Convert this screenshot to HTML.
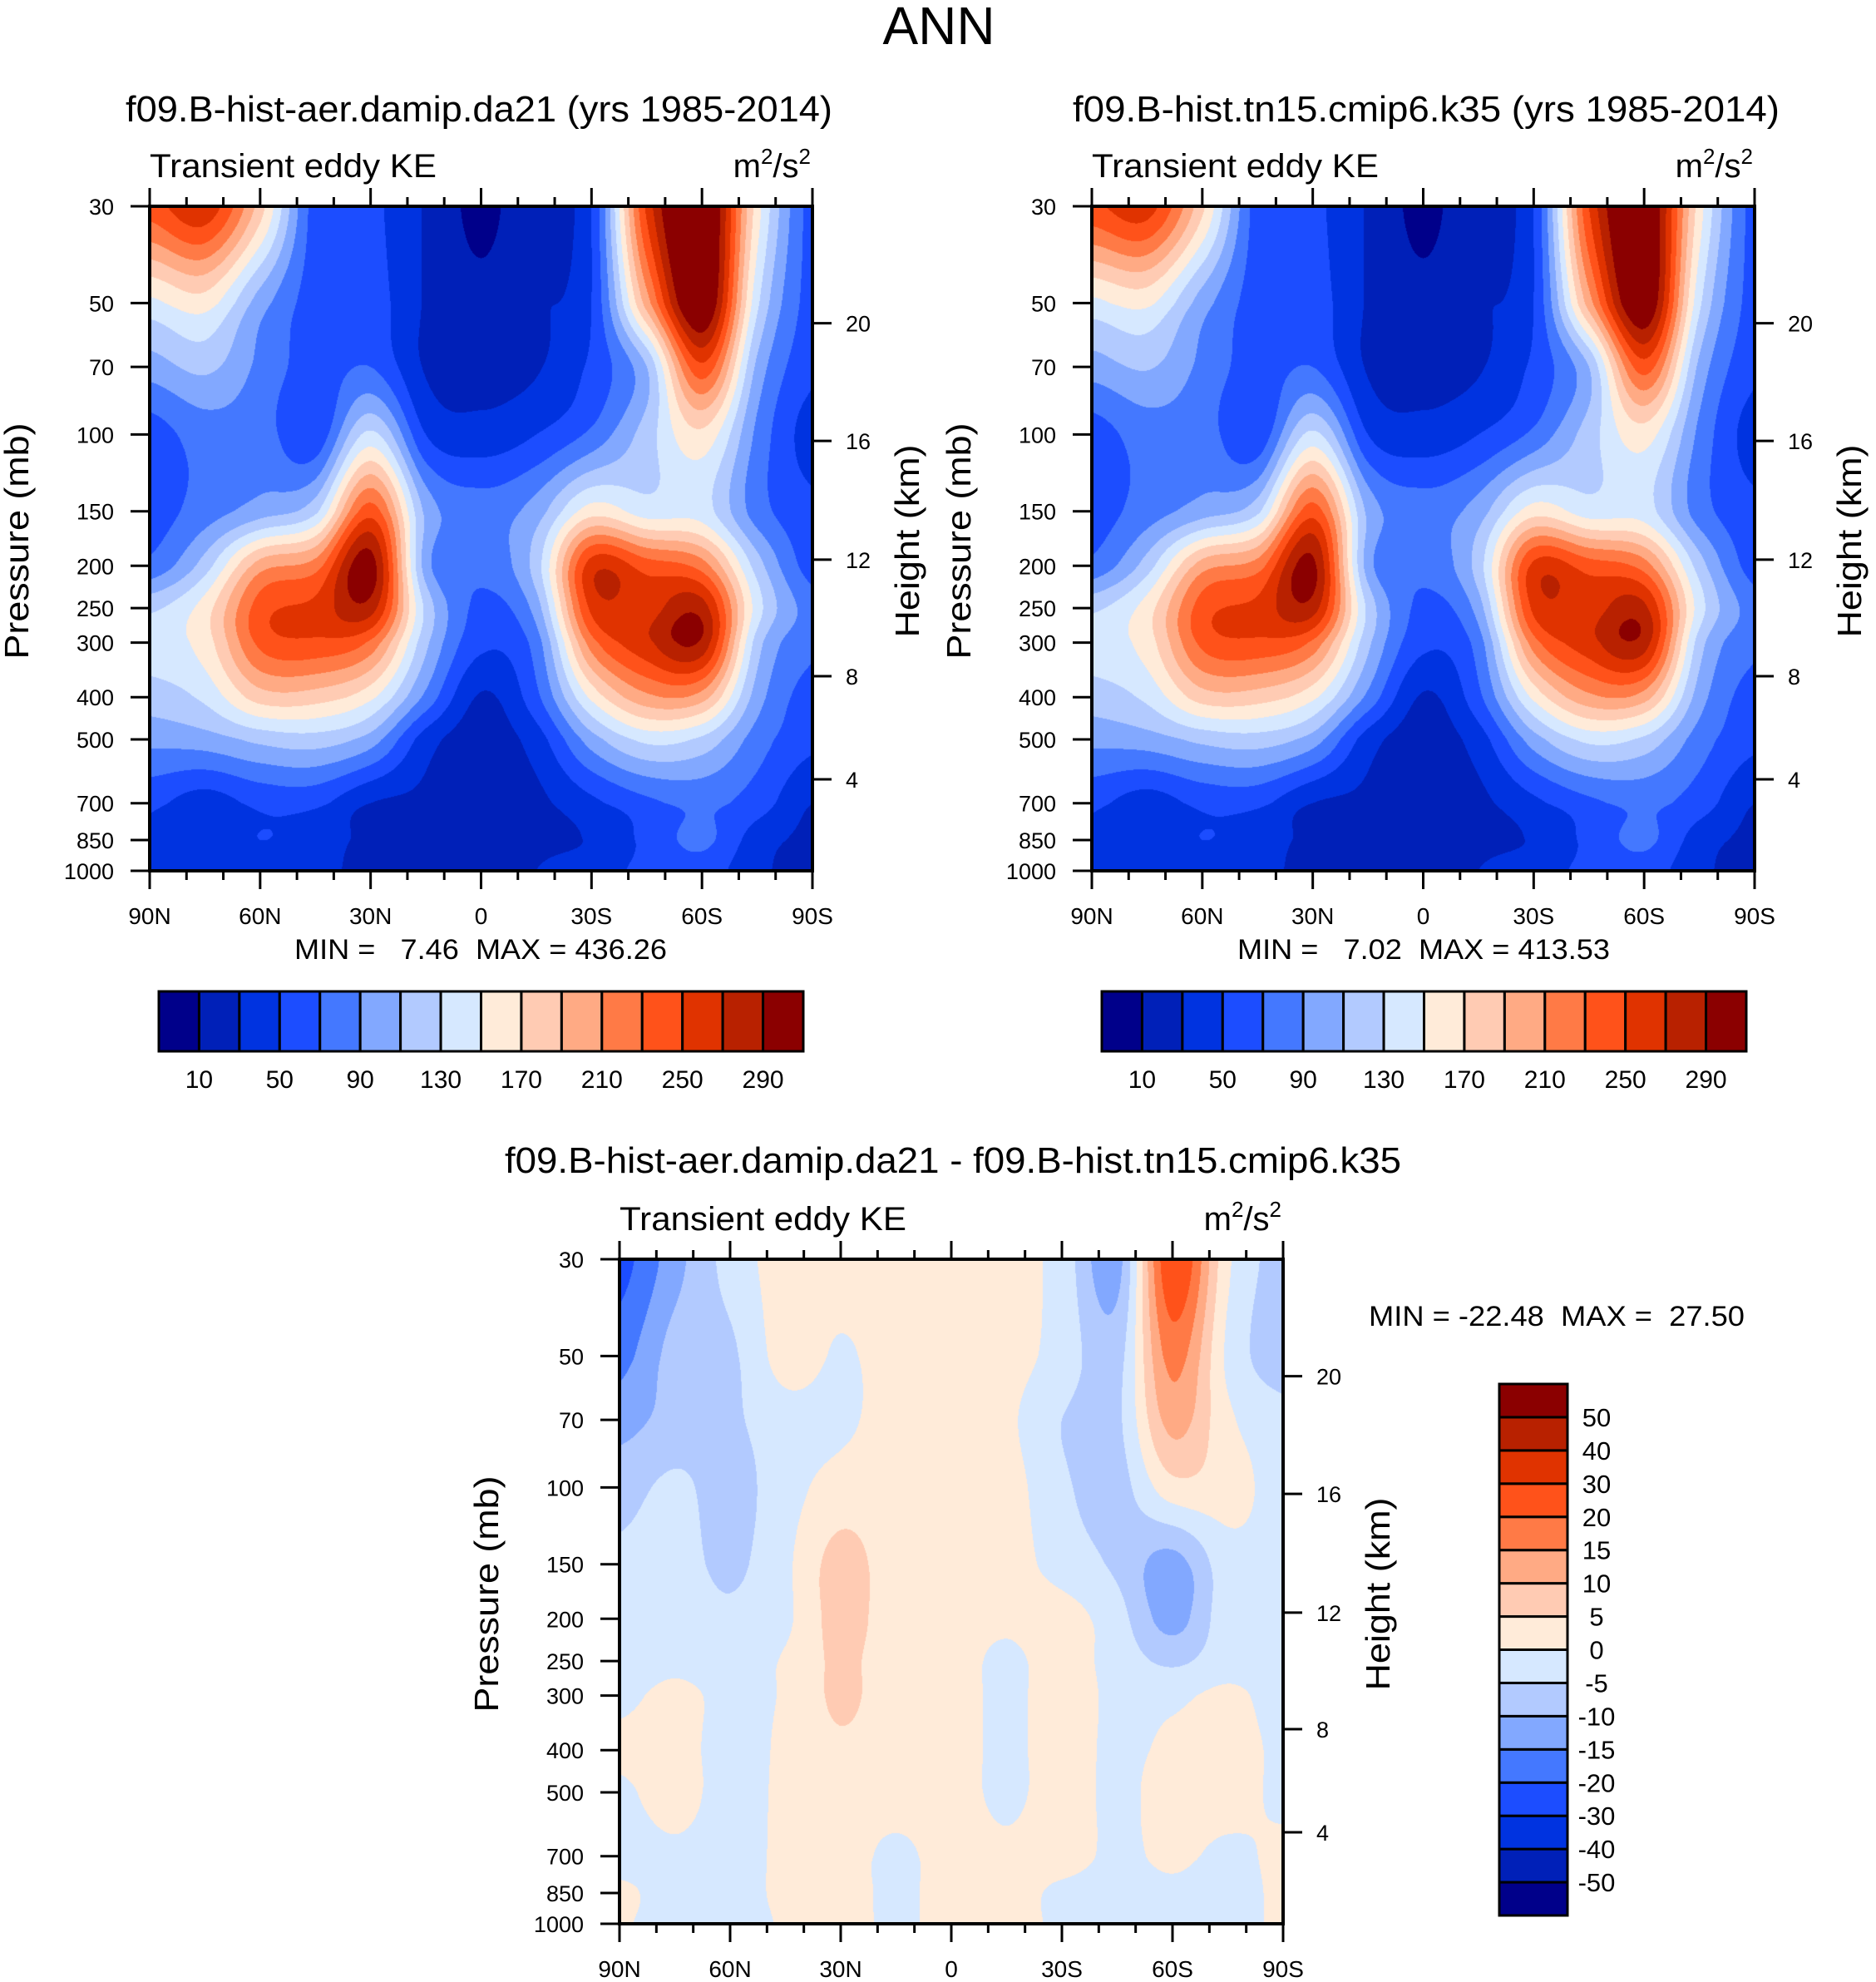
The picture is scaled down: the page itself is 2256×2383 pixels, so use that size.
<!DOCTYPE html>
<html><head><meta charset="utf-8">
<style>
html,body{margin:0;padding:0;background:#fff;}
#wrap{position:relative;width:2256px;height:2383px;overflow:hidden;background:#fff;}
canvas{position:absolute;}
svg{position:absolute;left:0;top:0;}
text{font-family:"Liberation Sans",Arial,sans-serif;fill:#000;white-space:pre;}
</style></head>
<body>
<div id="wrap">
<canvas id="c1"></canvas>
<canvas id="c2"></canvas>
<canvas id="c3"></canvas>
<svg id="svg" width="2256" height="2383" xmlns="http://www.w3.org/2000/svg"></svg>
</div>
<script>
// ---- data ----
const lats = [90,75,60,45,30,15,0,-15,-30,-45,-60,-75,-90];
const levels = [30,50,70,100,150,200,250,300,400,500,700,850,1000];
const pTicks = [30,50,70,100,150,200,250,300,400,500,700,850,1000];
const hTickLabels = ['20','16','12','8','4'];
const hTickP = [55.6,103.5,193.6,358,617];
const latTickVals = [90,60,30,0,-30,-60,-90];
const latTickLabels = ['90N','60N','30N','0','30S','60S','90S'];
const keBounds = [10,30,50,70,90,110,130,150,170,190,210,230,250,270,290];
const keBarLabels = ['10','50','90','130','170','210','250','290'];
const diffBounds = [-50,-40,-30,-20,-15,-10,-5,0,5,10,15,20,30,40,50];
const diffBarLabels = ['-50','-40','-30','-20','-15','-10','-5','0','5','10','15','20','30','40','50'];
const colors = ['#00008a','#0020b8','#0033e0','#1c4dff','#4478ff','#82a8ff','#b2caff','#d6e8ff','#ffebd9','#ffcbb3','#ffaa84','#ff7a46','#ff521a','#e03300','#b82100','#8b0000'];
const ke1 = [
 [240,265,180,60,55,28,5,28,50,255,330,160,60],
 [145,160,100,60,60,28,15,28,50,200,320,135,60],
 [100,115,85,60,70,28,22,28,55,110,245,105,55],
 [60,80,80,55,135,50,38,50,75,120,165,85,40],
 [60,80,100,125,240,105,80,100,160,140,140,80,55],
 [75,120,200,220,300,100,75,120,260,240,220,120,60],
 [125,160,240,255,280,125,65,100,255,260,280,140,80],
 [140,160,235,245,225,115,55,80,220,265,285,120,75],
 [120,135,180,180,155,85,28,65,155,205,200,100,60],
 [95,100,115,120,100,40,20,40,100,135,125,80,55],
 [55,40,55,55,30,25,15,25,45,65,75,60,30],
 [45,35,50,40,25,20,15,25,32,55,75,40,25],
 [40,40,45,35,25,20,18,30,40,55,60,35,20]
];
const ke2 = [
 [245,260,175,60,55,28,5,28,50,250,320,160,60],
 [145,155,100,60,60,28,15,28,50,200,315,135,60],
 [100,112,85,60,70,28,22,28,55,110,240,105,55],
 [60,80,80,55,135,50,38,50,75,120,160,85,40],
 [60,80,100,125,240,105,80,100,160,140,140,80,55],
 [75,120,200,220,295,100,75,120,255,240,220,120,60],
 [125,160,240,255,280,125,65,100,255,260,275,140,80],
 [140,160,235,245,225,115,55,80,220,262,280,120,75],
 [120,135,180,180,155,85,28,65,155,205,200,100,60],
 [95,100,115,120,100,40,20,40,100,135,125,80,55],
 [55,40,55,55,30,25,15,25,45,65,75,60,30],
 [45,35,50,40,25,20,15,25,32,55,75,40,25],
 [40,40,45,35,25,20,18,30,40,55,60,35,20]
];
const diff = [
 [-22,-12,-3,2,2,2,2,2,-2,-12,25,1,-7],
 [-17,-8,-6,2,-0.5,2,2,2,-2,-7,17,-1,-8],
 [-12,-8,-6,-2,-1,2,2,1,-5,-6,12,1,-3],
 [-7,-4,-7,-2,2,2,2,2,-4,-7,3,2,-2],
 [-4,-3,-6,-1,7,2,2,2,-2,-6,-12,-2,-2],
 [-3,-2,-4,-1,7,2,2,1,2,-3,-12,-2,-2],
 [-2,-1,-2,0.5,6,2,2,-1,2,-2,-6,-2,-2],
 [-1,1,-1,0.5,6,2,2,-1,2,-1,-1,1,-2],
 [1,2,-2,1,4,2,2,-1,2,-1,1,2,-1],
 [-1,2,-2,1,2,2,2,-1,2,-1,2,2,-1],
 [-2,-1,-2,1,2,-1,2,1,2,-1,1,-1,1],
 [1,-2,-2,1,2,-1,2,2,-1,-2,-1,-2,1],
 [0.5,-2,-2,0.5,2,-1,2,2,-1,-2,-1,-2,1]
];

// ---- geometry ----
const P1 = {x:180,y:248,w:797,h:799};
const P2 = {x:1313,y:248,w:797,h:799};
const P3 = {x:745,y:1514,w:798,h:799};
const LP0 = Math.log(30), LP1 = Math.log(1000);
function yScale(P,p){return P.y + (Math.log(p)-LP0)/(LP1-LP0)*P.h;}
function xScale(P,lat){return P.x + (90-lat)/180*P.w;}
function hexRgb(h){return [parseInt(h.substr(1,2),16),parseInt(h.substr(3,2),16),parseInt(h.substr(5,2),16)];}
const rgb = colors.map(hexRgb);
const logLev = levels.map(Math.log);

function cr(p0,p1,p2,p3,t){
  const t2=t*t,t3=t2*t;
  return 0.5*((2*p1)+(-p0+p2)*t+(2*p0-5*p1+4*p2-p3)*t2+(-p0+3*p1-3*p2+p3)*t3);
}
function drawField(id,P,field,bounds){
  const cv=document.getElementById(id);
  cv.width=P.w; cv.height=P.h;
  cv.style.left=P.x+'px'; cv.style.top=P.y+'px';
  const ctx=cv.getContext('2d');
  const img=ctx.createImageData(P.w,P.h);
  const nl=lats.length, nr=levels.length;
  const R=(i)=>field[Math.max(0,Math.min(nr-1,i))];
  for(let py=0;py<P.h;py++){
    const lp=LP0+(py+0.5)/P.h*(LP1-LP0);
    let i=0; while(i<nr-2 && lp>logLev[i+1]) i++;
    const t=Math.min(1,Math.max(0,(lp-logLev[i])/(logLev[i+1]-logLev[i])));
    const r0=R(i-1),r1=R(i),r2=R(i+1),r3=R(i+2);
    const col=new Array(nl);
    for(let j=0;j<nl;j++) col[j]=cr(r0[j],r1[j],r2[j],r3[j],t);
    const C=(j)=>col[Math.max(0,Math.min(nl-1,j))];
    for(let px=0;px<P.w;px++){
      const u=(px+0.5)/P.w*(nl-1);
      let j=Math.min(nl-2,Math.floor(u)); const s=u-j;
      const v=cr(C(j-1),C(j),C(j+1),C(j+2),s);
      let k=0; while(k<bounds.length && v>=bounds[k]) k++;
      const c=rgb[k]; const o=(py*P.w+px)*4;
      img.data[o]=c[0];img.data[o+1]=c[1];img.data[o+2]=c[2];img.data[o+3]=255;
    }
  }
  ctx.putImageData(img,0,0);
}
drawField('c1',P1,ke1,keBounds);
drawField('c2',P2,ke2,keBounds);
drawField('c3',P3,diff,diffBounds);

// ---- svg overlay ----
const svg=document.getElementById('svg');
const NS='http://www.w3.org/2000/svg';
function el(tag,attrs,parent){const e=document.createElementNS(NS,tag);for(const k in attrs)e.setAttribute(k,attrs[k]);(parent||svg).appendChild(e);return e;}
function txt(s,attrs){const e=el('text',attrs);e.textContent=s;return e;}

let t;
t=txt('ANN',{x:1129,y:53,'font-size':64,'text-anchor':'middle'});



function panel(P,sub,subX0,subW,name){
  let e;
  if(sub){
    e=txt(sub,{x:subX0,y:146,'font-size':44,textLength:subW,lengthAdjust:'spacingAndGlyphs'});
    
    
  }
  const ty=P.y-35;
  e=txt('Transient eddy KE',{x:P.x,y:ty,'font-size':40,textLength:345,lengthAdjust:'spacingAndGlyphs'});
  
  
  e=el('text',{x:P.x+P.w-2,y:ty,'font-size':40,'text-anchor':'end'});
  e.innerHTML='m<tspan dy="-16" font-size="26">2</tspan><tspan dy="16">/s</tspan><tspan dy="-16" font-size="26">2</tspan>';
  
  
  e=el('rect',{x:P.x,y:P.y,width:P.w,height:P.h,fill:'none',stroke:'#000','stroke-width':4});
  
  
  for(let lat=90;lat>=-90;lat-=10){
    const x=xScale(P,lat); const major=(lat%30===0);
    const L=major?22:11;
    e=el('line',{x1:x,y1:P.y+P.h,x2:x,y2:P.y+P.h+L,stroke:'#000','stroke-width':3});
    
    
    e=el('line',{x1:x,y1:P.y,x2:x,y2:P.y-L,stroke:'#000','stroke-width':3});
    
    
  }
  latTickVals.forEach((lat,i)=>{
    const e2=txt(latTickLabels[i],{x:xScale(P,lat),y:P.y+P.h+64,'font-size':28,'text-anchor':'middle'});
    
    
  });
  pTicks.forEach(p=>{
    const y=yScale(P,p);
    let e2=el('line',{x1:P.x-23,y1:y,x2:P.x,y2:y,stroke:'#000','stroke-width':3});
    
    
    e2=txt(String(p),{x:P.x-43,y:y+10,'font-size':27,'text-anchor':'end'});
    
    
  });
  hTickP.forEach((p,i)=>{
    const y=yScale(P,p);
    let e2=el('line',{x1:P.x+P.w,y1:y,x2:P.x+P.w+23,y2:y,stroke:'#000','stroke-width':3});
    
    
    e2=txt(hTickLabels[i],{x:P.x+P.w+40,y:y+10,'font-size':27});
    
    
  });
  const cy=P.y+P.h*0.5+3;
  e=txt('Pressure (mb)',{x:0,y:0,'font-size':41,'text-anchor':'middle',textLength:284,lengthAdjust:'spacingAndGlyphs',transform:`translate(${P.x-146},${cy}) rotate(-90)`});
  
  
  e=txt('Height (km)',{x:0,y:0,'font-size':41,'text-anchor':'middle',textLength:232,lengthAdjust:'spacingAndGlyphs',transform:`translate(${P.x+P.w+128},${cy}) rotate(-90)`});
  
  
}
panel(P1,'f09.B-hist-aer.damip.da21 (yrs 1985-2014)',151,850,'left');
panel(P2,'f09.B-hist.tn15.cmip6.k35 (yrs 1985-2014)',1290,850,'right');
panel(P3,null,0,0,'difference');
t=txt('f09.B-hist-aer.damip.da21 - f09.B-hist.tn15.cmip6.k35',{x:607,y:1410,'font-size':44,textLength:1078,lengthAdjust:'spacingAndGlyphs'});



t=txt('MIN =   7.46  MAX = 436.26',{x:354,y:1153,'font-size':34,textLength:448,lengthAdjust:'spacingAndGlyphs'});


t=txt('MIN =   7.02  MAX = 413.53',{x:1488,y:1153,'font-size':34,textLength:448,lengthAdjust:'spacingAndGlyphs'});


t=txt('MIN = -22.48  MAX =  27.50',{x:1646,y:1594,'font-size':34,textLength:452,lengthAdjust:'spacingAndGlyphs'});



function hbar(x0,name){
  const y0=1192,h=72,w=775,cw=w/colors.length;
  colors.forEach((c,i)=>{
    const r=el('rect',{x:x0+i*cw,y:y0,width:cw,height:h,fill:c,stroke:'#000','stroke-width':3});
    
    
  });
  keBarLabels.forEach((s)=>{
    const k=keBounds.indexOf(+s)+1;
    const e=txt(s,{x:x0+k*cw,y:1308,'font-size':30,'text-anchor':'middle'});
    
    
  });
}
hbar(191,'left');
hbar(1325,'right');
(function(){
  const x0=1803,w=82,y1=2303,ch=(2303-1664)/colors.length;
  colors.forEach((c,i)=>{
    const r=el('rect',{x:x0,y:y1-(i+1)*ch,width:w,height:ch,fill:c,stroke:'#000','stroke-width':3});
    
    
  });
  diffBarLabels.forEach((s,i)=>{
    const e=txt(s,{x:1920,y:y1-(i+1)*ch+11,'font-size':31,'text-anchor':'middle'});
    
    
  });
})();
</script>
</body></html>
